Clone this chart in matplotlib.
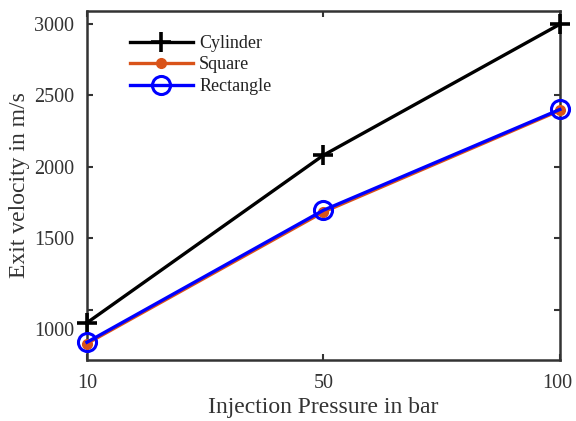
import matplotlib
matplotlib.use("Agg")
import matplotlib.pyplot as plt
import matplotlib.transforms as mtransforms
import numpy as np

pressures = ["10", "50", "100"]
cylinder = [910, 2082, 2998]
square = [765, 1685, 2395]
rectangle = [774, 1697, 2402]
yticks = [1000, 1500, 2000, 2500, 3000]

plt.rcParams['font.family'] = ['Liberation Serif', 'DejaVu Serif']

fig = plt.figure(figsize=(5.76, 4.21), dpi=100)
ax = fig.add_axes([0.151, 0.145, 0.821, 0.829])

x = np.arange(len(pressures))
ax.plot(x, cylinder, color='black', lw=2.4, marker='+', ms=15, mew=2.6,
        label='Cylinder', clip_on=False, zorder=3)
ax.plot(x, square, color='#D95319', lw=2.4, marker='o', ms=7, mew=1,
        label='Square', clip_on=False, zorder=3)
ax.plot(x, rectangle, color='#0000FF', lw=2.4, marker='o', ms=13, mew=2.2,
        mfc='none', label='Rectangle', clip_on=False, zorder=4)

ax.set_xlim(0, 2)
ax.set_ylim(650, 3091)
ax.set_xticks(x)
ax.set_xticklabels(pressures)
ax.set_yticks(yticks)
ax.set_yticklabels([str(v) for v in yticks])

for s in ax.spines.values():
    s.set_linewidth(1.8)
    s.set_color('#333333')

ax.tick_params(direction='in', length=4, width=1.5, colors='#333333',
               labelcolor='#333333', labelsize=14.5, top=True, right=True)
ax.tick_params(axis='y', pad=9)
ax.tick_params(axis='x', pad=10)

# the "1000" label sits lower than its tick in the reference
lab = ax.yaxis.get_major_ticks()[0].label1
lab.set_transform(lab.get_transform() +
                  mtransforms.ScaledTranslation(0, -19/100, fig.dpi_scale_trans))
# keep "100" inside the figure
labx = ax.xaxis.get_major_ticks()[2].label1
labx.set_transform(labx.get_transform() +
                   mtransforms.ScaledTranslation(-3/100, 0, fig.dpi_scale_trans))

ax.set_xlabel('Injection Pressure in bar', fontsize=17, color='#333333', labelpad=3)
ax.set_ylabel('Exit velocity in m/s', fontsize=17, color='#333333', labelpad=3)

leg = ax.legend(loc='upper left', bbox_to_anchor=(0.075, 0.952), frameon=False,
                fontsize=13, handlelength=3.5, handletextpad=0.35,
                labelspacing=0.25, borderaxespad=0)
for t in leg.get_texts():
    t.set_color('#222222')

fig.savefig('out.png', dpi=100)
